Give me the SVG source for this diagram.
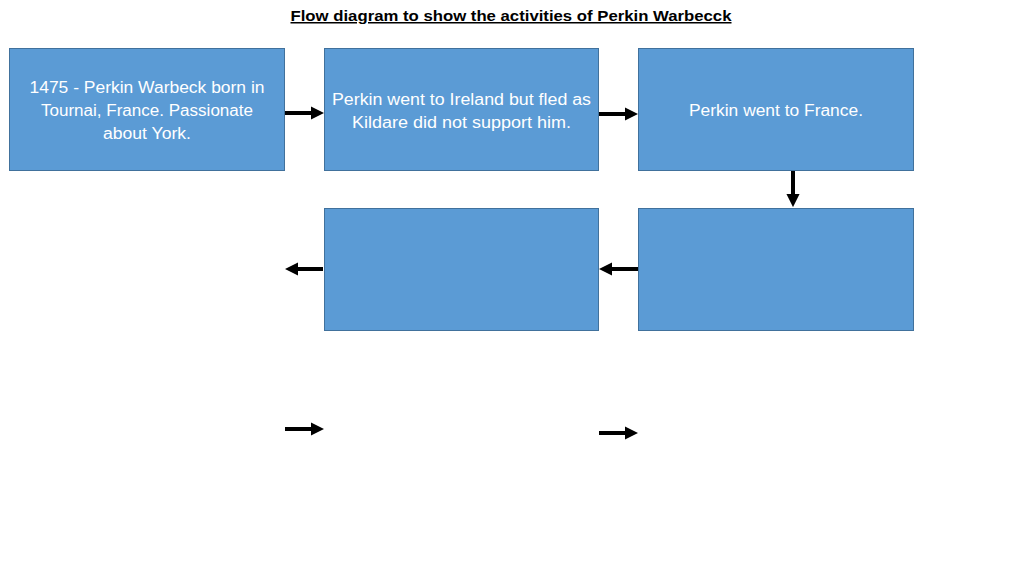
<svg xmlns="http://www.w3.org/2000/svg" width="1024" height="576" viewBox="0 0 1024 576">
<style>
.box{fill:#5B9BD5;stroke:#41719C;stroke-width:1}
.t{font-family:"Liberation Sans",Arial,sans-serif;font-size:16px;fill:#fff;text-anchor:middle}
.title{font-family:"Liberation Sans",Arial,sans-serif;font-size:15px;font-weight:bold;fill:#000;text-anchor:middle;text-decoration:underline}
.c{stroke:#000;stroke-width:4;fill:none;marker-end:url(#ah)}
</style>
<defs>
<marker id="ah" viewBox="0 0 10 10" refX="4" refY="5" markerWidth="3.4" markerHeight="3.4" markerUnits="strokeWidth" orient="auto">
<path d="M0,0 L10,5 L0,10 Z" fill="#000"/>
</marker>
</defs>
<rect width="1024" height="576" fill="#fff"/>
<text class="title" x="511" y="21" textLength="441" lengthAdjust="spacingAndGlyphs">Flow diagram to show the activities of Perkin Warbecck</text>
<g id="n1">
<rect class="box" x="9.5" y="48.5" width="275" height="122"/>
<text class="t" x="147" y="93" textLength="235" lengthAdjust="spacingAndGlyphs">1475 - Perkin Warbeck born in</text>
<text class="t" x="147" y="116" textLength="212" lengthAdjust="spacingAndGlyphs">Tournai, France. Passionate</text>
<text class="t" x="147" y="139" textLength="88" lengthAdjust="spacingAndGlyphs">about York.</text>
</g>
<g id="n2">
<rect class="box" x="324.5" y="48.5" width="274" height="122"/>
<text class="t" x="461.5" y="105" textLength="259" lengthAdjust="spacingAndGlyphs">Perkin went to Ireland but fled as</text>
<text class="t" x="461.5" y="128" textLength="219" lengthAdjust="spacingAndGlyphs">Kildare did not support him.</text>
</g>
<g id="n3">
<rect class="box" x="638.5" y="48.5" width="275" height="122"/>
<text class="t" x="776" y="116" textLength="174" lengthAdjust="spacingAndGlyphs">Perkin went to France.</text>
</g>
<g id="n4">
<rect class="box" x="638.5" y="208.5" width="275" height="122"/>
</g>
<g id="n5">
<rect class="box" x="324.5" y="208.5" width="274" height="122"/>
</g>
<g id="connectors">
<line class="c" x1="285" y1="113" x2="316" y2="113"/>
<line class="c" x1="599" y1="114" x2="630" y2="114"/>
<line class="c" x1="793" y1="171" x2="793" y2="199"/>
<line class="c" x1="638" y1="269" x2="607" y2="269"/>
<line class="c" x1="323" y1="269" x2="293" y2="269"/>
<line class="c" x1="285" y1="429" x2="316" y2="429"/>
<line class="c" x1="599" y1="433" x2="630" y2="433"/>
</g>
</svg>
